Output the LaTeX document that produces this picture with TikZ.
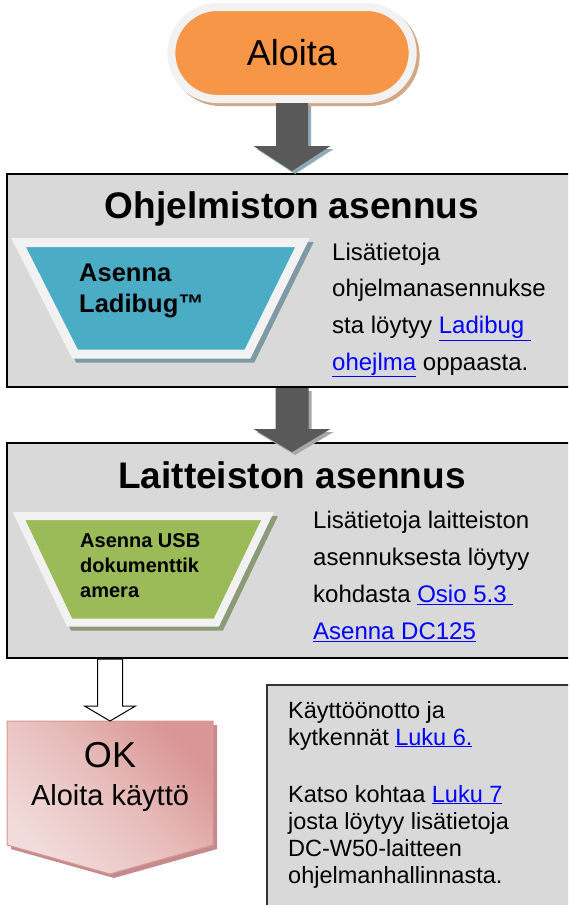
\documentclass[tikz,border=0pt]{standalone}
\usepackage{fontspec}
\setmainfont{Liberation Sans}
\usepackage{xcolor}
\usetikzlibrary{calc, shapes.misc, shadows}
\definecolor{boxgray}{RGB}{217,217,217}
\definecolor{rimwhite}{RGB}{242,242,242}
\definecolor{startorange}{RGB}{247,150,70}
\definecolor{startshadow}{RGB}{212,168,134}
\definecolor{arrowdark}{RGB}{89,89,89}
\definecolor{arrowshadowa}{RGB}{141,170,181}
\definecolor{arrowshadowb}{RGB}{166,166,166}
\definecolor{softblue}{RGB}{75,172,198}
\definecolor{softblueshadow}{RGB}{126,155,165}
\definecolor{hwgreen}{RGB}{155,187,89}
\definecolor{hwgreenshadow}{RGB}{141,154,119}
\definecolor{pinklight}{RGB}{242,220,219}
\definecolor{pinkdark}{RGB}{217,150,148}
\definecolor{pinkshadow}{RGB}{196,138,140}
\definecolor{linkblue}{RGB}{0,0,255}
\newcommand\linkref[1]{\textcolor{linkblue}{\underline{#1}}}
\newcommand\textlines[2][l]{\begin{tabular}[t]{@{}#1@{}}#2\end{tabular}}
% arrow: [style]{from}{to}{half shaft}{half head}{head length}
\newcommand\blockarrow[6][]{%
  \path[#1] let \p1=(#2), \p2=(#3) in
    (\x1-#4,\y1) -- (\x1+#4,\y1) -- (\x1+#4,\y2+#6) -- (\x1+#5,\y2+#6)
    -- (\x1,\y2) -- (\x1-#5,\y2+#6) -- (\x1-#4,\y2+#6) -- cycle;}
\tikzset{
  frame/.style={draw=black, line width=2pt, fill=boxgray, minimum width=570pt, inner sep=0pt},
  notebox/.style={draw=black!80, line width=1.5pt, fill=boxgray, minimum width=310pt,
    minimum height=240pt, inner sep=0pt},
  startpill/.style={rounded rectangle, fill=startorange, draw=rimwhite, line width=8pt,
    minimum width=248pt, minimum height=92pt, font=\fontsize{36}{40}\selectfont,
    drop shadow={shadow xshift=3pt, shadow yshift=-3pt, fill=startshadow,
      draw=startshadow, line width=8pt, opacity=1}},
  title/.style={anchor=base, inner sep=0pt, font=\fontsize{37}{40}\selectfont\bfseries},
  infotext/.style={anchor=base west, inner sep=0pt, font=\fontsize{24}{36.7}\selectfont},
  stepbox/.style={draw=rimwhite, line width=#1,
    drop shadow={shadow xshift=4pt, shadow yshift=-4pt, fill=stepshadow,
      draw=stepshadow, line width=#1, opacity=1}},
  steptext/.style={anchor=base west, inner sep=0pt},
  okshape/.style={draw=pinkdark, line width=1pt,
    top color=pinkdark, bottom color=pinklight, middle color=pinklight!60!pinkdark,
    shading angle=-45,
    drop shadow={shadow xshift=4pt, shadow yshift=-4pt, fill=pinkshadow, opacity=1}}
}

\begin{document}
\begin{tikzpicture}[x=1pt, y=-1pt]
\clip (0,0) rectangle (568,905);

% Frames
\node[frame, minimum height=213pt] (box1) at (292,280.5) {};
\node[frame, minimum height=215pt] (box2) at (292,550.5) {};
\node[notebox] (notes) at (422,805) {};

% Start
\node[startpill] (aloita) at (292,53) {Aloita};

% Software block
\node[title] (title1) at (292,218) {Ohjelmiston asennus};
\colorlet{stepshadow}{softblueshadow}
\path[stepbox=9pt, fill=softblue] (18.5,242.5) -- (302.5,242.5) -- (247.5,354) -- (75,354) -- cycle;
\node[steptext, font=\fontsize{25.5}{31}\selectfont\bfseries] (ladibugtext) at (79,281)
  {\textlines{Asenna\\Ladibug™}};
\node[infotext] (softinfo) at (332,260)
  {\textlines{Lisätietoja\\ohjelmanasennukse\\sta löytyy \linkref{Ladibug\ }\\
   \linkref{ohejlma} oppaasta.}};

% Hardware block
\node[title] (title2) at (292,488) {Laitteiston asennus};
\colorlet{stepshadow}{hwgreenshadow}
\path[stepbox=8pt, fill=hwgreen] (19,516) -- (267.6,516) -- (216.4,622.5) -- (69.5,622.5) -- cycle;
\node[steptext, font=\fontsize{20}{25}\selectfont\bfseries] (usbtext) at (80,547)
  {\textlines{Asenna USB\\dokumenttik\\amera}};
\node[infotext, font=\fontsize{24}{37.3}\selectfont] (hwinfo) at (313,528)
  {\textlines{Lisätietoja laitteiston\\asennuksesta löytyy\\kohdasta \linkref{Osio 5.3\ }\\
   \linkref{Asenna DC125}}};

% Ready
\coordinate (ok) at (110,721);
\path[okshape] ($(ok)+(-103pt,0)$) -- ($(ok)+(103pt,0)$) -- ($(ok)+(103pt,-124pt)$)
  -- ($(ok)+(0,-153pt)$) -- ($(ok)+(-103pt,-124pt)$) -- cycle;
\node[anchor=base, inner sep=0pt, font=\fontsize{36}{38}\selectfont] (oktext) at (110,767)
  {\textlines[c]{OK\\\fontsize{29}{38}\selectfont Aloita käyttö}};

% Notes
\node[infotext, font=\fontsize{23.5}{27}\selectfont] (notetext) at (288,718)
  {\textlines{Käyttöönotto ja\\kytkennät \linkref{Luku 6.}\\[30pt]
   Katso kohtaa \linkref{Luku 7}\\josta löytyy lisätietoja\\DC-W50-laitteen\\
   ohjelmanhallinnasta.}};

% Arrows
\blockarrow[fill=arrowshadowa, transform canvas={xshift=3pt, yshift=-3pt}]
  {aloita.south}{$(box1.north)+(0,2pt)$}{16pt}{38.5pt}{25pt}
\blockarrow[fill=arrowdark]{aloita.south}{$(box1.north)+(0,2pt)$}{16pt}{38.5pt}{25pt}
\blockarrow[fill=arrowshadowb, transform canvas={xshift=3pt, yshift=-3pt}]
  {box1.south}{$(box2.north)+(0,-10pt)$}{16.5pt}{38.5pt}{23pt}
\blockarrow[fill=arrowdark]{box1.south}{$(box2.north)+(0,-10pt)$}{16.5pt}{38.5pt}{23pt}
\blockarrow[fill=white, draw=black, line width=1pt]{ok |- box2.south}{ok}{12.5pt}{25.5pt}{15pt}

\end{tikzpicture}
\end{document}
